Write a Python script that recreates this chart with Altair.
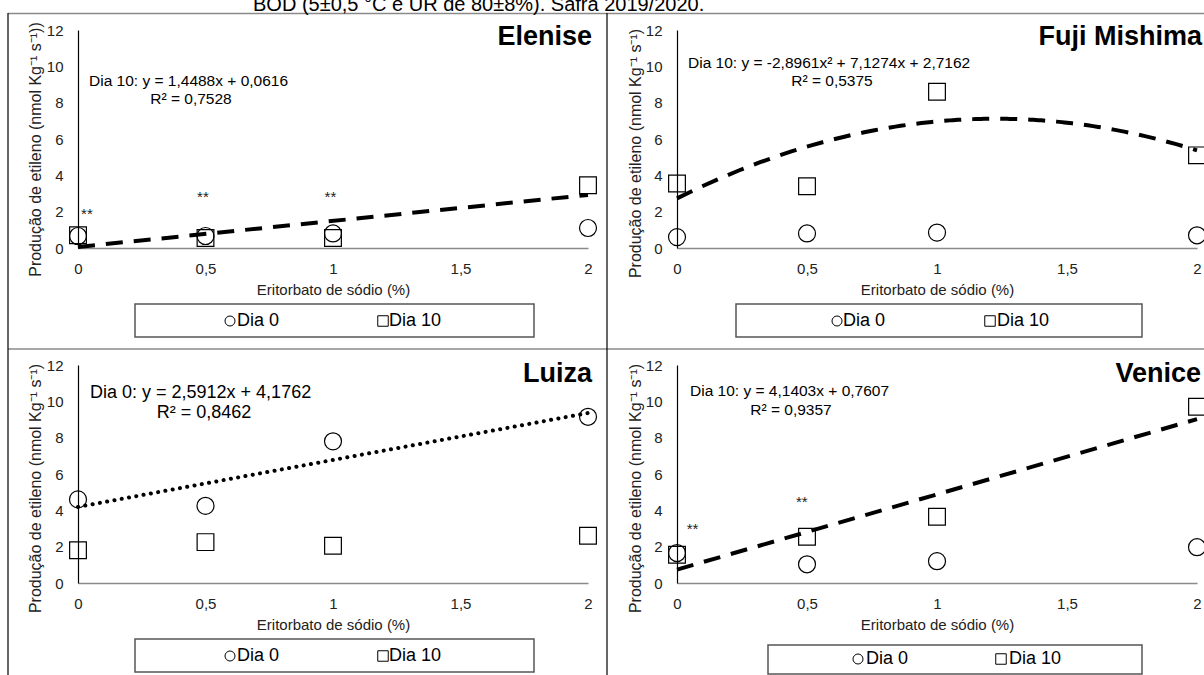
import altair as alt
import pandas as pd

W, H = 1204, 675
FONT = "Liberation Sans"

# ---------------- data ----------------
x_vals = [0, 0.5, 1, 2]
x_ticks = [0, 0.5, 1, 1.5, 2]
y_ticks = [0, 2, 4, 6, 8, 10, 12]

elenise_dia0 = [0.66, 0.66, 0.8, 1.1]
elenise_dia10 = [0.7, 0.55, 0.55, 3.45]
fuji_dia0 = [0.6, 0.8, 0.85, 0.7]
fuji_dia10 = [3.55, 3.4, 8.6, 5.1]
luiza_dia0 = [4.6, 4.25, 7.8, 9.15]
luiza_dia10 = [1.8, 2.25, 2.05, 2.6]
venice_dia0 = [1.65, 1.03, 1.2, 1.97]
venice_dia10 = [1.55, 2.55, 3.65, 9.7]

elenise_sig_x = [0.035, 0.49, 0.99]
elenise_sig_y = [1.85, 2.8, 2.8]
venice_sig_x = [0.06, 0.48]
venice_sig_y = [3.0, 4.45]

title_text = "BOD (5±0,5 °C e UR de 80±8%). Safra 2019/2020."
x_title = "Eritorbato de sódio (%)"

panels = [
    dict(name="Elenise", d0=elenise_dia0, d10=elenise_dia10, fit="Dia 10",
         method="linear", order=1, dotted=False,
         xr=[78, 588], yr=[248, 30],
         ytitle="Produção de etileno (nmol Kg⁻¹ s⁻¹))", ytitle_y=149, ytitle_x=35,
         eq1="Dia 10: y = 1,4488x + 0,0616", eq2="R² = 0,7528", eqfs=15.5,
         eq1_pos=(89, 81), eq2_pos=(191, 99), name_pos=(592, 37),
         sig_x=elenise_sig_x, sig_y=elenise_sig_y,
         box=(135, 534, 304, 337), sym0=(230, 321), txt0=237, sym10=(383, 321), txt10=389),
    dict(name="Fuji Mishima", d0=fuji_dia0, d10=fuji_dia10, fit="Dia 10",
         method="poly", order=2, dotted=False,
         xr=[677, 1197], yr=[248, 30],
         ytitle="Produção de etileno (nmol Kg⁻¹ s⁻¹)", ytitle_y=153, ytitle_x=635,
         eq1="Dia 10: y = -2,8961x² + 7,1274x + 2,7162", eq2="R² = 0,5375", eqfs=15.5,
         eq1_pos=(688, 63), eq2_pos=(832, 81), name_pos=(1202, 37),
         sig_x=[], sig_y=[],
         box=(736, 1142, 304, 337), sym0=(837, 321), txt0=843, sym10=(990, 321), txt10=997),
    dict(name="Luiza", d0=luiza_dia0, d10=luiza_dia10, fit="Dia 0",
         method="linear", order=1, dotted=True,
         xr=[78, 588], yr=[583, 365],
         ytitle="Produção de etileno (nmol Kg⁻¹ s⁻¹)", ytitle_y=488, ytitle_x=35,
         eq1="Dia 0: y = 2,5912x + 4,1762", eq2="R² = 0,8462", eqfs=18,
         eq1_pos=(90, 393), eq2_pos=(204, 413), name_pos=(592, 374),
         sig_x=[], sig_y=[],
         box=(135, 534, 639, 672), sym0=(230, 656), txt0=237, sym10=(383, 656), txt10=389),
    dict(name="Venice", d0=venice_dia0, d10=venice_dia10, fit="Dia 10",
         method="linear", order=1, dotted=False,
         xr=[677, 1197], yr=[583, 365],
         ytitle="Produção de etileno (nmol Kg⁻¹ s⁻¹)", ytitle_y=488, ytitle_x=635,
         eq1="Dia 10: y = 4,1403x + 0,7607", eq2="R² = 0,9357", eqfs=15.5,
         eq1_pos=(690, 391), eq2_pos=(791, 410), name_pos=(1201, 374),
         sig_x=venice_sig_x, sig_y=venice_sig_y,
         box=(768, 1142, 645, 674), sym0=(858, 659), txt0=866, sym10=(1001, 659), txt10=1009),
]


def txt(text, x, y, size, align="left", weight="normal", baseline="middle", color="black"):
    return alt.Chart(pd.DataFrame({"t": [text]})).mark_text(
        align=align, baseline=baseline, fontSize=size, fontWeight=weight,
        font=FONT, color=color
    ).encode(text="t:N", x=alt.value(x), y=alt.value(y))


def one():
    return pd.DataFrame({"k": [0]})


def panel(p):
    df = pd.DataFrame({
        "x": x_vals * 2,
        "y": p["d0"] + p["d10"],
        "serie": ["Dia 0"] * len(x_vals) + ["Dia 10"] * len(x_vals),
    })
    xs = alt.Scale(domain=[0, 2], range=p["xr"], nice=False, zero=False)
    ys = alt.Scale(domain=[0, 12], range=p["yr"], nice=False)
    x_axis = alt.Axis(
        orient="bottom", offset=p["yr"][0] - H, values=x_ticks,
        labelExpr="replace(format(datum.value, ''), '.', ',')",
        labelFlush=False, labelOverlap=False,
        ticks=False, tickSize=0,
        grid=False, domainColor="#8a8a8a", domainWidth=1.5,
        labelFontSize=15, labelPadding=13, labelColor="#222", labelFont=FONT,
        title=x_title, titleFontSize=15, titleFontWeight="normal", titleFont=FONT,
        titleColor="#222", titleX=(p["xr"][0] + p["xr"][1]) / 2, titleY=41,
        titleBaseline="middle", titleAlign="center",
    )
    y_axis = alt.Axis(
        orient="left", offset=-p["xr"][0], values=y_ticks, ticks=False, tickSize=0,
        labelFlush=False, labelOverlap=False,
        grid=False, domainColor="black", domainWidth=1.2,
        labelFontSize=15, labelPadding=15, labelColor="#222", labelFont=FONT,
        title=p["ytitle"], titleFontSize=16, titleFontWeight="normal", titleFont=FONT,
        titleColor="#222", titleX=p["ytitle_x"] - p["xr"][0], titleY=p["ytitle_y"],
        titleBaseline="middle", titleAlign="center", titleAngle=270,
    )
    X = alt.X("x:Q", scale=xs, axis=x_axis)
    Y = alt.Y("y:Q", scale=ys, axis=y_axis)

    base = alt.Chart(df)
    circles = base.transform_filter(alt.datum.serie == "Dia 0").mark_point(
        shape="circle", filled=False, stroke="black", strokeWidth=1.2, size=289, opacity=1
    ).encode(x=X, y=Y)
    squares = base.transform_filter(alt.datum.serie == "Dia 10").mark_point(
        shape="square", filled=False, stroke="black", strokeWidth=1.2, size=280, opacity=1
    ).encode(x=X, y=Y)

    reg = base.transform_filter(alt.datum.serie == p["fit"])
    if p["method"] == "poly":
        reg = reg.transform_regression("x", "y", method="poly", order=p["order"])
    else:
        reg = reg.transform_regression("x", "y", method="linear")
    if p["dotted"]:
        fit = reg.mark_line(color="black", strokeWidth=4, strokeDash=[0.1, 7.3],
                            strokeCap="round").encode(x=X, y=Y)
    else:
        fit = reg.mark_line(color="black", strokeWidth=4, strokeDash=[17, 11]).encode(x=X, y=Y)

    layers = [circles, squares, fit]
    if p["sig_x"]:
        sig = alt.Chart(pd.DataFrame({"x": p["sig_x"], "y": p["sig_y"]})).mark_text(
            text="**", fontSize=15, font=FONT, color="#222", baseline="middle", align="center"
        ).encode(x=X, y=Y)
        layers.append(sig)

    # equation, panel name
    layers.append(txt(p["eq1"], p["eq1_pos"][0], p["eq1_pos"][1], p["eqfs"]))
    layers.append(txt(p["eq2"], p["eq2_pos"][0], p["eq2_pos"][1], p["eqfs"], align="center"))
    layers.append(txt(p["name"], p["name_pos"][0], p["name_pos"][1], 27,
                      align="right", weight="bold"))

    # legend box
    bx0, bx1, by0, by1 = p["box"]
    layers.append(alt.Chart(one()).mark_rect(fill="white", stroke="#555", strokeWidth=1.5).encode(
        x=alt.value(bx0), x2=alt.value(bx1), y=alt.value(by0), y2=alt.value(by1)))
    layers.append(alt.Chart(one()).mark_point(shape="circle", filled=False, stroke="black",
                                              strokeWidth=1, size=100, opacity=1).encode(
        x=alt.value(p["sym0"][0]), y=alt.value(p["sym0"][1])))
    layers.append(alt.Chart(one()).mark_point(shape="square", filled=False, stroke="black",
                                              strokeWidth=1, size=110, opacity=1).encode(
        x=alt.value(p["sym10"][0]), y=alt.value(p["sym10"][1])))
    layers.append(txt("Dia 0", p["txt0"], p["sym0"][1], 18))
    layers.append(txt("Dia 10", p["txt10"], p["sym10"][1], 18))
    return alt.layer(*layers)


def rule(x1, x2, y1, y2, color, width):
    return alt.Chart(one()).mark_rule(color=color, strokeWidth=width).encode(
        x=alt.value(x1), x2=alt.value(x2), y=alt.value(y1), y2=alt.value(y2))


frame = [
    rule(8, W, 13.5, 13.5, "#8a8a8a", 1.5),
    rule(8, W, 349, 349, "#8a8a8a", 1.5),
    rule(8, 8, 13, H, "black", 1.2),
    rule(607, 607, 13, H, "black", 1.2),
    txt(title_text, 253, 11, 20, baseline="alphabetic"),
]

chart = alt.layer(
    *[panel(p) for p in panels], *frame
).resolve_scale(
    x="independent", y="independent"
).properties(
    width=W, height=H, padding=0,
    autosize=alt.AutoSizeParams(type="none"),
    background="white",
).configure(
    font=FONT,
    view=alt.ViewConfig(strokeWidth=0),
)

chart.save("out.html", embed_options={"renderer": "svg", "actions": False})
